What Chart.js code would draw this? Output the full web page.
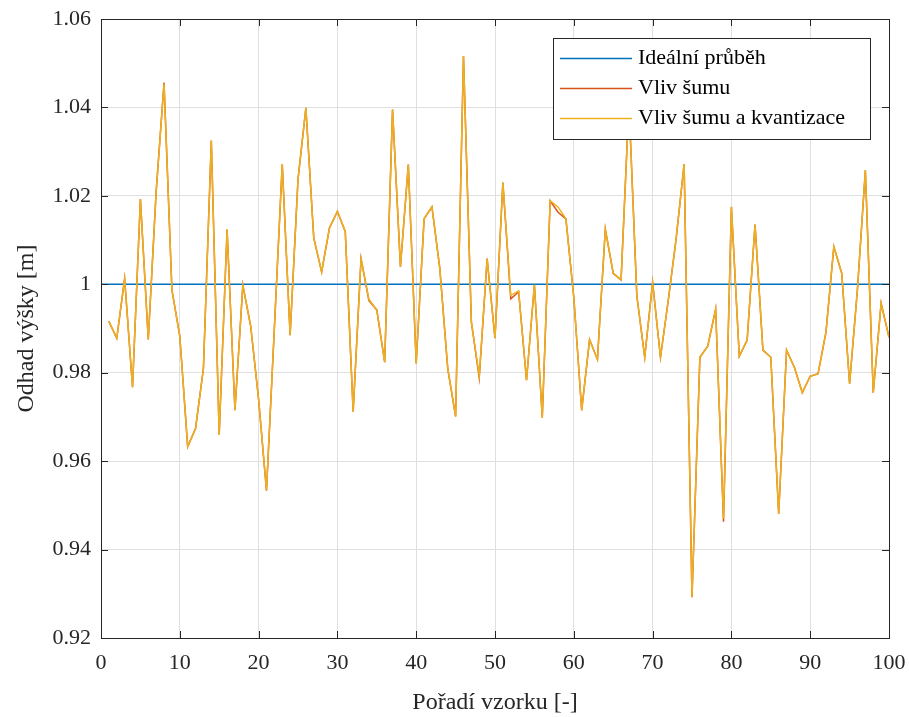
<!DOCTYPE html>
<html>
<head>
<meta charset="utf-8">
<script src="https://cdn.jsdelivr.net/npm/chart.js@4.4.1/dist/chart.umd.min.js"></script>
<style>
  html, body { margin: 0; padding: 0; background: #fff; }
  #wrap { width: 909px; height: 717px; }
</style>
</head>
<body>
<div id="wrap"><canvas id="chart" width="909" height="717"></canvas></div>
<script>
// sample index 1..100
var samples = [];
for (var i = 1; i <= 100; i++) samples.push(i);

// ideal course (constant height 1 m over the whole axis)
var idealX = [0, 100];
var idealY = [1, 1];

// estimate with noise
var noiseY = [
  0.9916, 0.9878, 1.0013, 0.9767, 1.0193, 0.9875, 1.0210, 1.0456, 0.9987, 0.9883,
  0.9633, 0.9674, 0.9810, 1.0325, 0.9660, 1.0124, 0.9715, 0.9998, 0.9905, 0.9740,
  0.9533, 0.9900, 1.0272, 0.9885, 1.0237, 1.0399, 1.0105, 1.0028, 1.0128, 1.0165,
  1.0119, 0.9712, 1.0058, 0.9963, 0.9942, 0.9824, 1.0395, 1.0040, 1.0271, 0.9821,
  1.0148, 1.0175, 1.0035, 0.9810, 0.9701, 1.0516, 0.9915, 0.9788, 1.0058, 0.9878,
  1.0230, 0.9967, 0.9983, 0.9783, 0.9999, 0.9698, 1.0189, 1.0163, 1.0148, 0.9970,
  0.9715, 0.9875, 0.9830, 1.0125, 1.0025, 1.0010, 1.0410, 0.9974, 0.9835, 1.0005,
  0.9835, 0.9965, 1.0105, 1.0272, 0.9292, 0.9835, 0.9860, 0.9944, 0.9463, 1.0175,
  0.9837, 0.9874, 1.0135, 0.9851, 0.9835, 0.9481, 0.9851, 0.9812, 0.9755, 0.9792,
  0.9798, 0.9892, 1.0085, 1.0025, 0.9775, 0.9990, 1.0258, 0.9755, 0.9957, 0.9880
];

// estimate with noise and quantization
var quantY = [
  0.9916, 0.9878, 1.0013, 0.9767, 1.0193, 0.9875, 1.0210, 1.0453, 0.9987, 0.9883,
  0.9633, 0.9674, 0.9810, 1.0325, 0.9660, 1.0124, 0.9715, 0.9998, 0.9905, 0.9740,
  0.9535, 0.9900, 1.0272, 0.9885, 1.0237, 1.0399, 1.0105, 1.0028, 1.0128, 1.0165,
  1.0119, 0.9712, 1.0058, 0.9966, 0.9942, 0.9824, 1.0395, 1.0040, 1.0271, 0.9821,
  1.0148, 1.0175, 1.0035, 0.9810, 0.9701, 1.0516, 0.9915, 0.9793, 1.0058, 0.9878,
  1.0230, 0.9975, 0.9985, 0.9783, 0.9999, 0.9698, 1.0189, 1.0175, 1.0148, 0.9970,
  0.9715, 0.9875, 0.9830, 1.0125, 1.0025, 1.0010, 1.0410, 0.9974, 0.9835, 1.0003,
  0.9835, 0.9965, 1.0105, 1.0272, 0.9292, 0.9835, 0.9860, 0.9944, 0.9470, 1.0175,
  0.9837, 0.9874, 1.0135, 0.9851, 0.9835, 0.9481, 0.9851, 0.9812, 0.9755, 0.9792,
  0.9798, 0.9892, 1.0085, 1.0025, 0.9775, 0.9990, 1.0258, 0.9755, 0.9957, 0.9880
];

var xTicks = [0, 10, 20, 30, 40, 50, 60, 70, 80, 90, 100];
var yTicks = [0.92, 0.94, 0.96, 0.98, 1, 1.02, 1.04, 1.06];

var seriesNames = ["Ideální průběh", "Vliv šumu", "Vliv šumu a kvantizace"];
var seriesColors = ["#0072BD", "#D95319", "#EDB120"];

var FONT = "'Liberation Serif', 'Times New Roman', serif";
var AXIS = "#262626";

function pts(xs, ys) {
  return xs.map(function(x, k) { return { x: x, y: ys[k] }; });
}

// box round the plot plus inward ticks, like MATLAB axes
var boxPlugin = {
  id: "box",
  afterDatasetsDraw: function(chart) {
    var ctx = chart.ctx, a = chart.chartArea;
    var xs = chart.scales.x, ys = chart.scales.y;
    var len = 7;
    ctx.save();
    ctx.strokeStyle = AXIS;
    ctx.lineWidth = 1;
    ctx.beginPath();
    xTicks.forEach(function(v) {
      var px = Math.round(xs.getPixelForValue(v)) + 0.5;
      ctx.moveTo(px, a.bottom); ctx.lineTo(px, a.bottom - len);
      ctx.moveTo(px, a.top); ctx.lineTo(px, a.top + len);
    });
    yTicks.forEach(function(v) {
      var py = Math.round(ys.getPixelForValue(v)) + 0.5;
      ctx.moveTo(a.left, py); ctx.lineTo(a.left + len, py);
      ctx.moveTo(a.right, py); ctx.lineTo(a.right - len, py);
    });
    ctx.stroke();
    ctx.strokeRect(Math.round(a.left) + 0.5, Math.round(a.top) + 0.5,
      Math.round(a.right - a.left), Math.round(a.bottom - a.top));
    ctx.restore();
  }
};

// legend box in the upper right corner of the axes
var legendPlugin = {
  id: "boxLegend",
  afterDatasetsDraw: function(chart) {
    var ctx = chart.ctx;
    var x0 = 553, y0 = 38, w = 317, h = 101;
    ctx.save();
    ctx.fillStyle = "#fff";
    ctx.fillRect(x0, y0, w, h);
    ctx.strokeStyle = AXIS;
    ctx.lineWidth = 1;
    ctx.strokeRect(x0 + 0.5, y0 + 0.5, w, h);
    ctx.font = "22px " + FONT;
    ctx.textBaseline = "middle";
    ctx.fillStyle = "#000";
    seriesNames.forEach(function(name, k) {
      var yy = 58 + k * 30;
      ctx.strokeStyle = seriesColors[k];
      ctx.lineWidth = 1.5;
      ctx.beginPath();
      ctx.moveTo(560, yy + 0.5); ctx.lineTo(632, yy + 0.5);
      ctx.stroke();
      ctx.fillText(name, 638, yy);
    });
    ctx.restore();
  }
};

new Chart(document.getElementById("chart").getContext("2d"), {
  type: "line",
  data: {
    datasets: [
      { label: seriesNames[0], data: pts(idealX, idealY), borderColor: seriesColors[0], borderWidth: 1.5, order: 3 },
      { label: seriesNames[1], data: pts(samples, noiseY), borderColor: seriesColors[1], borderWidth: 1.5, order: 2 },
      { label: seriesNames[2], data: pts(samples, quantY), borderColor: seriesColors[2], borderWidth: 1.5, order: 1 }
    ]
  },
  options: {
    responsive: false,
    animation: false,
    events: [],
    elements: { point: { radius: 0 }, line: { tension: 0 } },
    layout: { padding: { top: 19, right: 20, left: 0, bottom: 0 } },
    plugins: { legend: { display: false }, tooltip: { enabled: false } },
    scales: {
      x: {
        type: "linear",
        min: 0, max: 100,
        afterBuildTicks: function(s) { s.ticks = xTicks.map(function(v) { return { value: v }; }); },
        afterFit: function(s) { s.height = 79; s.paddingLeft = 0; s.paddingRight = 0; },
        grid: { color: "#dfdfdf", drawTicks: false },
        border: { display: false },
        ticks: { color: AXIS, font: { family: FONT, size: 22 }, padding: 12, maxRotation: 0 },
        title: { display: true, text: "Pořadí vzorku [-]", color: AXIS, font: { family: FONT, size: 24 }, padding: { top: 0, bottom: 0 } }
      },
      y: {
        min: 0.92, max: 1.06,
        afterBuildTicks: function(s) { s.ticks = yTicks.map(function(v) { return { value: v }; }); },
        afterFit: function(s) { s.width = 101; s.paddingTop = 0; s.paddingBottom = 0; },
        grid: { color: "#dfdfdf", drawTicks: false },
        border: { display: false },
        ticks: {
          color: AXIS, font: { family: FONT, size: 22 }, padding: 10,
          callback: function(v) { return String(Number(v.toFixed(2))); }
        },
        title: { display: true, text: "Odhad výšky [m]", color: AXIS, font: { family: FONT, size: 24 }, padding: { top: 12, bottom: 0 } }
      }
    }
  },
  plugins: [boxPlugin, legendPlugin]
});
</script>
</body>
</html>
